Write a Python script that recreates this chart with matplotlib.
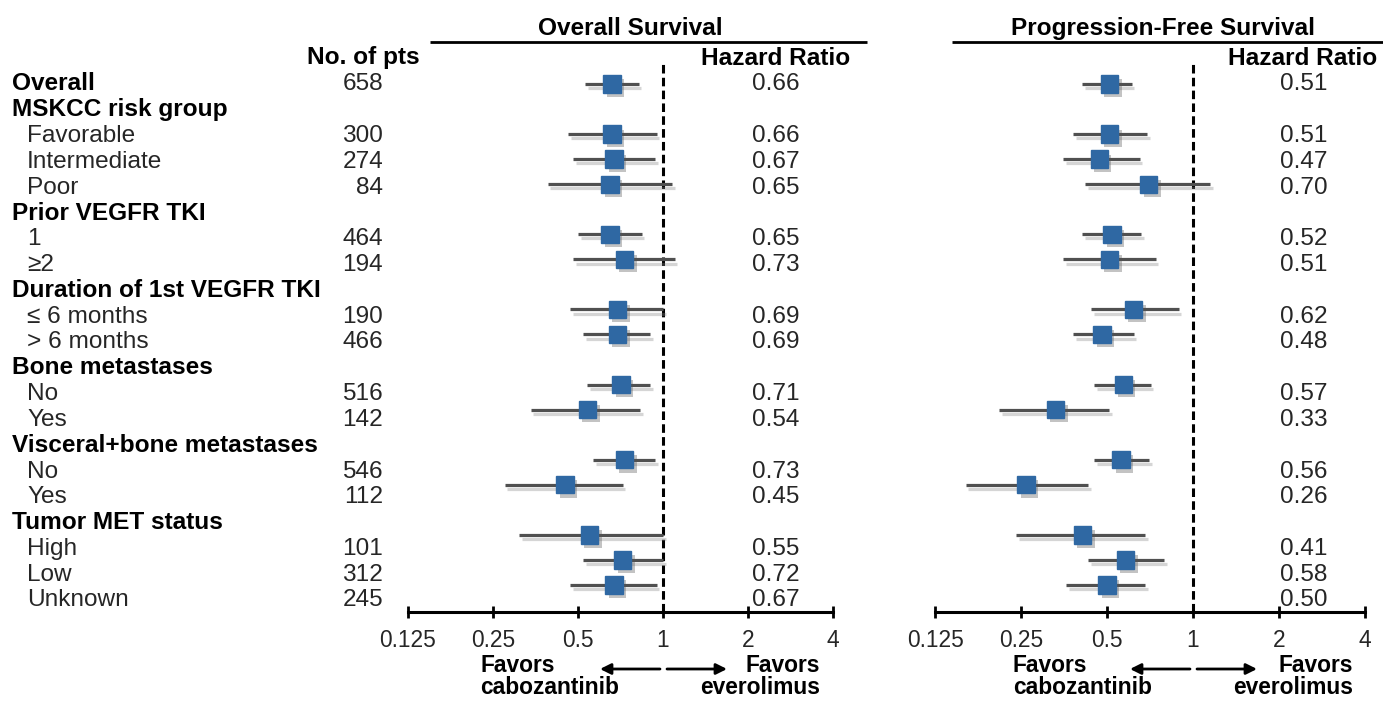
import numpy as np
import matplotlib
matplotlib.use("Agg")
import matplotlib.pyplot as plt
import matplotlib.patheffects as pe

plt.rcParams['font.family'] = ['Liberation Sans', 'DejaVu Sans']

# ---- data ----
labels = ["Overall", "MSKCC risk group", "Favorable", "Intermediate", "Poor",
          "Prior VEGFR TKI", "1", "≥2", "Duration of 1st VEGFR TKI",
          "≤ 6 months", "> 6 months", "Bone metastases", "No", "Yes",
          "Visceral+bone metastases", "No", "Yes", "Tumor MET status",
          "High", "Low", "Unknown"]
is_header = [True, True, False, False, False, True, False, False, True, False, False,
             True, False, False, True, False, False, True, False, False, False]
n_pts = ["658", "", "300", "274", "84", "", "464", "194", "", "190", "466",
         "", "516", "142", "", "546", "112", "", "101", "312", "245"]

nan = np.nan
os_hr = [0.66, nan, 0.66, 0.67, 0.65, nan, 0.65, 0.73, nan, 0.69, 0.69,
         nan, 0.71, 0.54, nan, 0.73, 0.45, nan, 0.55, 0.72, 0.67]
os_lo = [0.53, nan, 0.46, 0.48, 0.39, nan, 0.50, 0.48, nan, 0.47, 0.52,
         nan, 0.54, 0.34, nan, 0.565, 0.275, nan, 0.31, 0.52, 0.47]
os_hi = [0.82, nan, 0.95, 0.94, 1.08, nan, 0.84, 1.10, nan, 1.00, 0.90,
         nan, 0.90, 0.83, nan, 0.94, 0.72, nan, 1.00, 1.00, 0.95]

pfs_hr = [0.51, nan, 0.51, 0.47, 0.70, nan, 0.52, 0.51, nan, 0.62, 0.48,
          nan, 0.57, 0.33, nan, 0.56, 0.26, nan, 0.41, 0.58, 0.50]
pfs_lo = [0.41, nan, 0.38, 0.35, 0.42, nan, 0.41, 0.35, nan, 0.44, 0.38,
          nan, 0.45, 0.21, nan, 0.45, 0.16, nan, 0.24, 0.43, 0.36]
pfs_hi = [0.61, nan, 0.69, 0.65, 1.15, nan, 0.66, 0.74, nan, 0.89, 0.62,
          nan, 0.71, 0.51, nan, 0.70, 0.43, nan, 0.68, 0.79, 0.68]

ticks = [0.125, 0.25, 0.5, 1, 2, 4]
tick_labels = ["0.125", "0.25", "0.5", "1", "2", "4"]

W, H = 1383, 701
BLUE = '#2f68a3'
TXT = '#262626'

fig = plt.figure(figsize=(W / 100, H / 100), dpi=100)

# overlay axes in pixel coordinates for the table text
ax_txt = fig.add_axes([0, 0, 1, 1])
ax_txt.set_xlim(0, W)
ax_txt.set_ylim(H, 0)
ax_txt.axis('off')

row_base = 90.5
row_step = 25.8
fs_row = 17.6
fs_small = 16.4

for i, lab in enumerate(labels):
    yb = row_base + row_step * i
    if is_header[i]:
        ax_txt.text(12, yb, lab, fontsize=fs_row, fontweight='bold', color='k', va='baseline')
    else:
        ax_txt.text(27, yb, lab, fontsize=fs_row, color=TXT, va='baseline')
    if n_pts[i]:
        ax_txt.text(383, yb, n_pts[i], fontsize=fs_row, color=TXT, va='baseline', ha='right')
    if not np.isnan(os_hr[i]):
        ax_txt.text(776, yb, f"{os_hr[i]:.2f}", fontsize=fs_row, color=TXT, va='baseline', ha='center')
    if not np.isnan(pfs_hr[i]):
        ax_txt.text(1304, yb, f"{pfs_hr[i]:.2f}", fontsize=fs_row, color=TXT, va='baseline', ha='center')

# column headers
ax_txt.text(363, 64, "No. of pts", fontsize=fs_row, fontweight='bold', ha='center', va='baseline')
ax_txt.text(776, 65, "Hazard Ratio", fontsize=fs_row, fontweight='bold', ha='center', va='baseline')
ax_txt.text(1303, 65, "Hazard Ratio", fontsize=fs_row, fontweight='bold', ha='center', va='baseline')
ax_txt.text(630, 35, "Overall Survival", fontsize=fs_row, fontweight='bold', ha='center', va='baseline')
ax_txt.text(1163, 35, "Progression-Free Survival", fontsize=fs_row, fontweight='bold', ha='center', va='baseline')
ax_txt.plot([430, 867], [42, 42], color='k', lw=2, solid_capstyle='butt')
ax_txt.plot([952, 1383], [42, 42], color='k', lw=2, solid_capstyle='butt')


def forest(rect, hr, lo, hi, fav_left, fav_right, arrow_x):
    ax = fig.add_axes(rect)
    ax.patch.set_visible(False)
    ax.set_xscale('log', base=2)
    ax.set_xlim(0.125, 4)
    ax.set_ylim(21.078, -0.878)
    shadow_l = [pe.SimpleLineShadow(offset=(2, -3), shadow_color='#888888', alpha=0.35), pe.Normal()]
    shadow_m = [pe.SimplePatchShadow(offset=(2.5, -3), shadow_rgbFace='#555555', alpha=0.35), pe.Normal()]
    for i in range(len(hr)):
        if np.isnan(hr[i]):
            continue
        ax.plot([lo[i], hi[i]], [i, i], color='#505050', lw=2.3, solid_capstyle='butt',
                path_effects=shadow_l, zorder=2)
        ax.plot([hr[i]], [i], marker='s', ms=12.5, color=BLUE, mec=BLUE, ls='none',
                path_effects=shadow_m, zorder=3)
    ax.axvline(1, color='k', lw=2.2, dashes=(2.8, 1.4), zorder=1)
    for s in ['top', 'right', 'left']:
        ax.spines[s].set_visible(False)
    ax.spines['bottom'].set_linewidth(2.2)
    ax.set_yticks([])
    ax.set_xticks(ticks)
    ax.set_xticklabels(tick_labels)
    ax.minorticks_off()
    ax.tick_params(axis='x', direction='inout', length=8, width=2, pad=8,
                   labelsize=fs_small, labelcolor=TXT)
    # favors labels and arrows
    ax_txt.text(fav_left, 672, "Favors", fontsize=fs_small, fontweight='bold', va='baseline', ha='left')
    ax_txt.text(fav_left, 694, "cabozantinib", fontsize=fs_small, fontweight='bold', va='baseline', ha='left')
    ax_txt.text(fav_right, 672, "Favors", fontsize=fs_small, fontweight='bold', va='baseline', ha='right')
    ax_txt.text(fav_right, 694, "everolimus", fontsize=fs_small, fontweight='bold', va='baseline', ha='right')
    arr = dict(arrowstyle='-|>', color='k', lw=2, mutation_scale=16, shrinkA=0, shrinkB=0)
    ax_txt.annotate('', xy=(arrow_x - 63, 669), xytext=(arrow_x - 3, 669), arrowprops=arr)
    ax_txt.annotate('', xy=(arrow_x + 64, 669), xytext=(arrow_x + 4, 669), arrowprops=arr)
    return ax


bottom = 1 - 612 / H
height = (612 - 62) / H
forest([408 / W, bottom, 425 / W, height], os_hr, os_lo, os_hi, 480, 820, 663)
forest([935 / W, bottom, 430 / W, height], pfs_hr, pfs_lo, pfs_hi, 1013, 1353, 1193)

fig.savefig("out.png", dpi=100)
